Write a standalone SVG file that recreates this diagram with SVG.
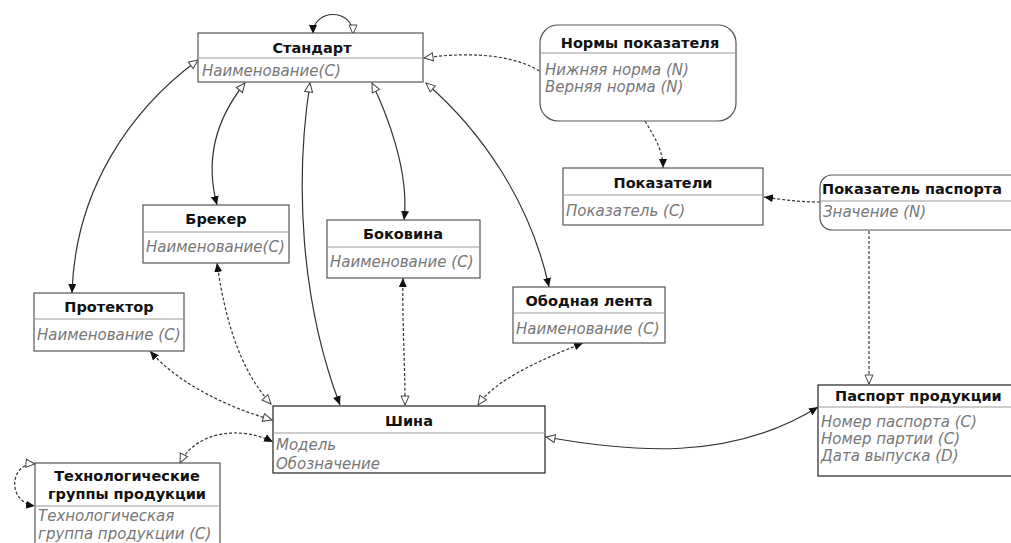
<svg xmlns="http://www.w3.org/2000/svg" width="1011" height="543" viewBox="0 0 1011 543">
<defs>
<style>
.box{fill:#fff;stroke:#555;stroke-width:1.2}
.dark{stroke:#222}
.sep{stroke:#999;stroke-width:1}
.t{font-family:"DejaVu Sans",sans-serif;font-weight:bold;font-size:14.5px;fill:#111;text-anchor:middle}
.a{font-family:"DejaVu Sans",sans-serif;font-style:italic;font-size:15px;fill:#777}
.c{fill:none;stroke:#333;stroke-width:1.2}
.d{stroke-dasharray:3 2}
</style>
<marker id="f" markerWidth="10" markerHeight="10" refX="9" refY="4" orient="auto-start-reverse" markerUnits="userSpaceOnUse"><path d="M0,0 L9,4 L0,8 z" fill="#111"/></marker>
<marker id="o" markerWidth="12" markerHeight="12" refX="10" refY="5" orient="auto-start-reverse" markerUnits="userSpaceOnUse"><path d="M1,1 L10,5 L1,9 z" fill="#fff" stroke="#444" stroke-width="1"/></marker>
</defs>
<rect width="1011" height="543" fill="#fff"/>
<g id="connectors">
<path class="c" d="M313,34 C313,8 353,8 353,34" marker-start="url(#f)" marker-end="url(#o)"/>
<path class="c d" d="M424,58 C480,50 520,58 541,72" marker-start="url(#o)"/>
<path class="c d" d="M645,121 C655,138 663,150 663,168" marker-end="url(#f)"/>
<path class="c d" d="M820,202 C800,202 785,200 764,197" marker-end="url(#f)"/>
<path class="c d" d="M869,231 L869,384" marker-end="url(#o)"/>
<path class="c" d="M818,407 C730,462 630,452 546,437" marker-start="url(#f)" marker-end="url(#o)"/>
<path class="c" d="M72,293 C75,190 130,110 198,60" marker-start="url(#f)" marker-end="url(#o)"/>
<path class="c" d="M217,205 C205,160 215,120 245,83" marker-start="url(#f)" marker-end="url(#o)"/>
<path class="c" d="M310,83 C295,180 300,300 340,405" marker-start="url(#o)" marker-end="url(#f)"/>
<path class="c" d="M404,220 C410,170 385,110 372,83" marker-start="url(#f)" marker-end="url(#o)"/>
<path class="c" d="M549,287 C530,200 480,130 426,83" marker-start="url(#f)" marker-end="url(#o)"/>
<path class="c d" d="M217,263 C225,320 240,370 271,404" marker-start="url(#f)" marker-end="url(#o)"/>
<path class="c d" d="M150,351 C175,380 220,405 272,420" marker-start="url(#f)" marker-end="url(#o)"/>
<path class="c d" d="M403,278 C402,320 405,360 405,405" marker-start="url(#f)" marker-end="url(#o)"/>
<path class="c d" d="M583,343 C540,360 495,380 478,405" marker-start="url(#f)" marker-end="url(#o)"/>
<path class="c d" d="M180,463 C195,432 240,425 273,442" marker-start="url(#o)" marker-end="url(#f)"/>
<path class="c d" d="M35,464 C10,462 6,502 35,506" marker-start="url(#o)" marker-end="url(#f)"/>
</g>
<g id="standart">
<rect class="box" x="198" y="33" width="225" height="49"/>
<line class="sep" x1="198" y1="58" x2="423" y2="58"/>
<text class="t" x="312" y="53">Стандарт</text>
<text class="a" x="202" y="76">Наименование(С)</text>
</g>
<g id="normy">
<rect class="box" x="540" y="25" width="196" height="96" rx="18"/>
<line class="sep" x1="540" y1="53" x2="736" y2="53"/>
<text class="t" x="640" y="48">Нормы показателя</text>
<text class="a" x="545" y="75">Нижняя норма (N)</text>
<text class="a" x="545" y="92">Верняя норма (N)</text>
</g>
<g id="pokazateli">
<rect class="box" x="563" y="168" width="200" height="57"/>
<line class="sep" x1="563" y1="195" x2="763" y2="195"/>
<text class="t" x="663" y="188">Показатели</text>
<text class="a" x="566" y="216">Показатель (С)</text>
</g>
<g id="pokazatel-pasporta">
<rect class="box" x="820" y="175" width="210" height="55" rx="12"/>
<line class="sep" x1="820" y1="201" x2="1030" y2="201"/>
<text class="t" x="822" y="194" style="text-anchor:start">Показатель паспорта</text>
<text class="a" x="823" y="217">Значение (N)</text>
</g>
<g id="pasport">
<rect class="box dark" x="818" y="385" width="210" height="91"/>
<line class="sep" x1="818" y1="407" x2="1028" y2="407"/>
<text class="t" x="835" y="401" style="text-anchor:start">Паспорт продукции</text>
<text class="a" x="821" y="427">Номер паспорта (С)</text>
<text class="a" x="821" y="444">Номер партии (С)</text>
<text class="a" x="821" y="461">Дата выпуска (D)</text>
</g>
<g id="shina">
<rect class="box dark" x="273" y="406" width="272" height="67"/>
<line class="sep" x1="273" y1="433" x2="545" y2="433"/>
<text class="t" x="409" y="426">Шина</text>
<text class="a" x="276" y="450">Модель</text>
<text class="a" x="276" y="469">Обозначение</text>
</g>
<g id="breker">
<rect class="box" x="143" y="205" width="146" height="58"/>
<line class="sep" x1="143" y1="232" x2="289" y2="232"/>
<text class="t" x="216" y="224">Брекер</text>
<text class="a" x="146" y="252">Наименование(С)</text>
</g>
<g id="protektor">
<rect class="box" x="34" y="293" width="150" height="58"/>
<line class="sep" x1="34" y1="319" x2="184" y2="319"/>
<text class="t" x="109" y="312">Протектор</text>
<text class="a" x="37" y="340">Наименование (С)</text>
</g>
<g id="bokovina">
<rect class="box" x="327" y="220" width="153" height="58"/>
<line class="sep" x1="327" y1="247" x2="480" y2="247"/>
<text class="t" x="403" y="239">Боковина</text>
<text class="a" x="330" y="267">Наименование (С)</text>
</g>
<g id="obodnaya-lenta">
<rect class="box" x="513" y="287" width="152" height="56"/>
<line class="sep" x1="513" y1="313" x2="665" y2="313"/>
<text class="t" x="589" y="306">Ободная лента</text>
<text class="a" x="516" y="334">Наименование (С)</text>
</g>
<g id="tekh-gruppy">
<rect class="box" x="35" y="463" width="185" height="90"/>
<line class="sep" x1="35" y1="506" x2="220" y2="506"/>
<text class="t" x="127" y="481">Технологические</text>
<text class="t" x="127" y="499">группы продукции</text>
<text class="a" x="38" y="521">Технологическая</text>
<text class="a" x="38" y="539">группа продукции (С)</text>
</g>
</svg>
